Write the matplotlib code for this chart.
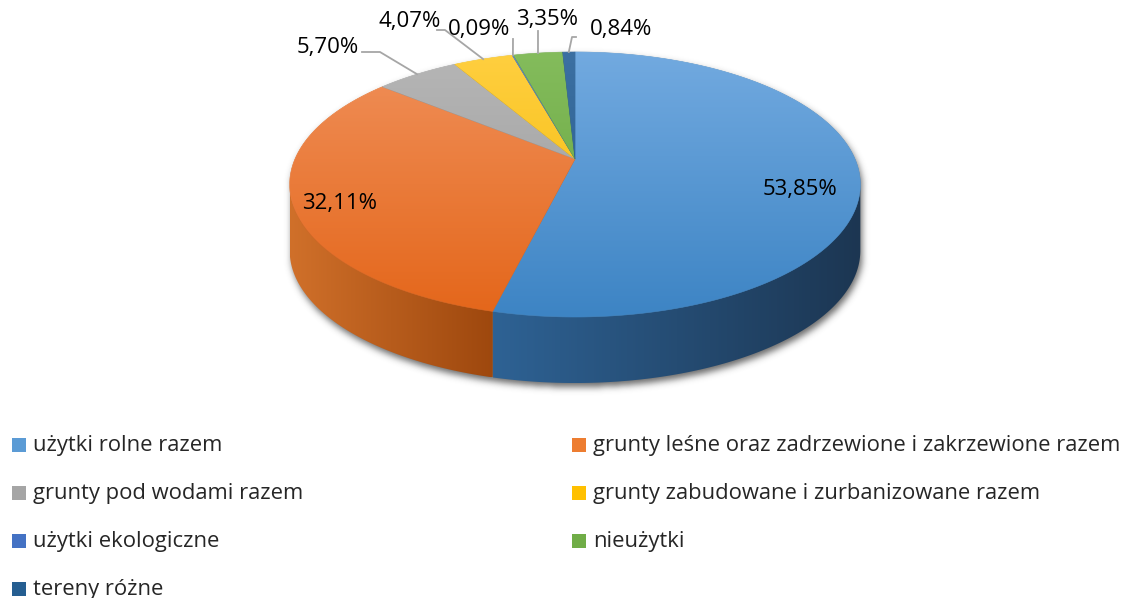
import numpy as np
import matplotlib
matplotlib.use("Agg")
import matplotlib.pyplot as plt
from matplotlib.patches import Polygon, Rectangle
from matplotlib.path import Path
from matplotlib.colors import LinearSegmentedColormap

categories = [
    "użytki rolne razem",
    "grunty leśne oraz zadrzewione i zakrzewione razem",
    "grunty pod wodami razem",
    "grunty zabudowane i zurbanizowane razem",
    "użytki ekologiczne",
    "nieużytki",
    "tereny różne",
]
shares = [53.85, 32.11, 5.70, 4.07, 0.09, 3.35, 0.84]
pct_labels = ["53,85%", "32,11%", "5,70%", "4,07%", "0,09%", "3,35%", "0,84%"]

# (light, dark) for top face and side wall
top_colors = [("#72aae0", "#3d84c4"), ("#f0905a", "#e4661a"), ("#b6b6b6", "#999999"),
              ("#ffcf40", "#f2b800"), ("#5a86d4", "#3e68b8"), ("#84bc5c", "#62a23a"),
              ("#3c70a2", "#24588a")]
side_colors = [("#2e6294", "#1c3652"), ("#d0702a", "#9e480e"), ("#7a7a7a", "#5a5a5a"),
               ("#b08400", "#8a6600"), ("#2e4f8c", "#233d70"), ("#4c7a2e", "#3a6022"),
               ("#1d4670", "#173a5c")]
legend_colors = ["#5b9bd5", "#ed7d31", "#a5a5a5", "#ffc000", "#4472c4", "#70ad47", "#255e91"]

W, H = 1126, 598
cx, cy, rx, ry, k, depth = 575, 159, 280, 127.6, 0.1925, 66


def pt(theta, dy=0):
    d = 1 + k * np.cos(theta)
    return cx + rx * np.sin(theta) / d, cy - ry * np.cos(theta) / d + dy


def grad_fill(ax, poly, c1, c2, vertical=True, span=None):
    ax.add_patch(poly)
    xy = poly.get_xy()
    x0, x1 = xy[:, 0].min(), xy[:, 0].max()
    y0, y1 = xy[:, 1].min(), xy[:, 1].max()
    if span is not None:
        y0, y1 = span
    cmap = LinearSegmentedColormap.from_list("g", [c1, c2])
    g = np.linspace(0, 1, 256)
    arr = g[:, None] if vertical else g[None, :]
    im = ax.imshow(arr, cmap=cmap, extent=(x0, x1 + 1e-6, y1 + 1e-6, y0),
                   origin="upper", aspect="auto", interpolation="bilinear",
                   zorder=poly.get_zorder())
    im.set_clip_path(poly)


fig = plt.figure(figsize=(W / 100, H / 100), dpi=100)
ax = fig.add_axes([0, 0, 1, 1])
ax.set_axis_off()

fr = np.array(shares) / sum(shares)
edges = np.concatenate([[0], np.cumsum(fr)]) * 2 * np.pi
ta = np.arccos(-k)          # right silhouette angle
tb = 2 * np.pi - ta         # left silhouette angle

# soft shadow around the pie body
t_back = np.linspace(tb, 2 * np.pi + ta, 400)
t_front = np.linspace(ta, tb, 300)
sil = np.vstack([np.column_stack(pt(t_back)), np.column_stack(pt(t_front, depth))])
sil = sil + np.array([2.0, 4.0])
gx, gy = np.meshgrid(np.arange(W) + 0.5, np.arange(H) + 0.5)
mask = Path(sil).contains_points(np.column_stack([gx.ravel(), gy.ravel()])).reshape(H, W)
sig = 3.5
fx = np.fft.fftfreq(W)[None, :]
fy = np.fft.fftfreq(H)[:, None]
kern = np.exp(-2 * (np.pi * sig) ** 2 * (fx ** 2 + fy ** 2))
blur = np.real(np.fft.ifft2(np.fft.fft2(mask.astype(float)) * kern))
shadow = np.zeros((H, W, 4))
shadow[..., :3] = 0.22
shadow[..., 3] = np.clip(blur, 0, 1) * 0.75
ax.imshow(shadow, extent=(0, W, H, 0), origin="upper", aspect="auto", zorder=1)

# side walls
for i in range(len(shares)):
    a, b = max(edges[i], ta), min(edges[i + 1], tb)
    if b <= a:
        continue
    t = np.linspace(a, b, 200)
    top = np.column_stack(pt(t))
    bot = np.column_stack(pt(t[::-1], depth))
    poly = Polygon(np.vstack([top, bot]), closed=True, lw=0, fc="none", zorder=2)
    grad_fill(ax, poly, side_colors[i][0], side_colors[i][1], vertical=False)

# top faces
y_top, y_bot = pt(0)[1], pt(np.pi)[1]
for i in range(len(shares)):
    t = np.linspace(edges[i], edges[i + 1], max(3, int(400 * fr[i])))
    arc = np.column_stack(pt(t))
    poly = Polygon(np.vstack([[cx, cy], arc]), closed=True, lw=0.4,
                   ec=top_colors[i][1], fc="none", zorder=3)
    grad_fill(ax, poly, top_colors[i][0], top_colors[i][1], span=(y_top, y_bot))

# data labels and leader lines
lab_pos = [(800, 190), (340, 203), (328, 47), (410, 22), (479, 30), (547, 20), (621, 29)]
leader_start = [None, None,
                [(362, 52), (380, 52)],
                [(437, 30), (445, 30)],
                [(513, 39)],
                [(538, 31)],
                [(576, 37), (572, 37)]]
for i, lab in enumerate(pct_labels):
    if leader_start[i]:
        mid = (edges[i] + edges[i + 1]) / 2
        pts = leader_start[i] + [pt(mid)]
        xs, ys = zip(*pts)
        ax.plot(xs, ys, color="#a6a6a6", lw=1.3, zorder=4)
    ax.text(*lab_pos[i], lab, fontsize=16, family="Open Sans", color="#000000",
            ha="center", va="center", zorder=5)

# legend
for i, name in enumerate(categories):
    row, col = i // 2, i % 2
    x = [12, 572][col]
    y = 445 + 48 * row
    ax.add_patch(Rectangle((x, y - 7), 14, 14, color=legend_colors[i], lw=0, zorder=5))
    ax.text(x + 21, y, name, fontsize=15.8, family="Open Sans", color="#262626",
            ha="left", va="center", zorder=5)

ax.set_xlim(0, W)
ax.set_ylim(H, 0)
fig.savefig("out.png", dpi=100)
